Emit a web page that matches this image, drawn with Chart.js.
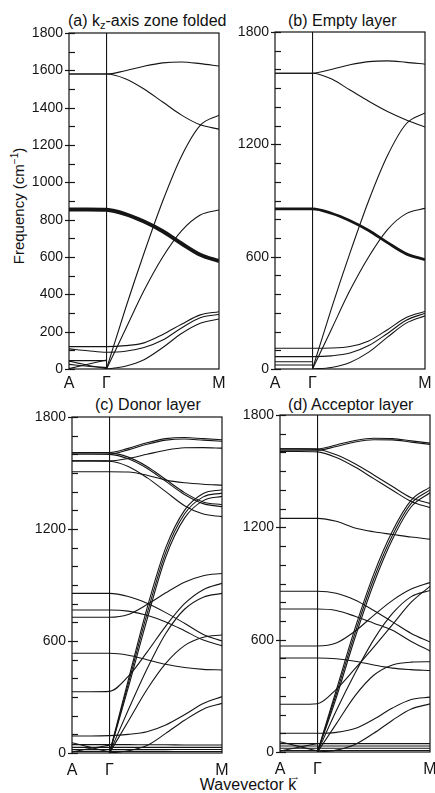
<!DOCTYPE html>
<html><head><meta charset="utf-8">
<script src="https://cdn.jsdelivr.net/npm/chart.js@4"></script>
<style>
html,body{margin:0;padding:0;background:#fff;}
body{width:435px;height:793px;position:relative;overflow:hidden;font-family:"Liberation Sans",Arial,sans-serif;color:#111;}
canvas{position:absolute;}
.t{position:absolute;white-space:nowrap;font-size:16px;line-height:16px;}
.t sub{font-size:11px;vertical-align:-3px;line-height:0;}
</style></head><body>
<div class="t" style="left:68px;top:13px">(a) k<sub>z</sub>-axis zone folded</div>
<div class="t" style="left:288px;top:13px">(b) Empty layer</div>
<div class="t" style="left:95px;top:397px">(c) Donor layer</div>
<div class="t" style="left:288px;top:397px">(d) Acceptor layer</div>
<div class="t" style="left:19px;top:206px;font-size:15px;transform:translate(-50%,-50%) rotate(-90deg);">Frequency (cm<sup style="font-size:10px;line-height:0">−1</sup>)</div>
<div class="t" style="left:248px;top:785px;transform:translate(-50%,-50%);">Wavevector <span style="position:relative;display:inline-block;">k<span style="position:absolute;left:1px;top:-9px;font-size:11px;">→</span></span></div>
<canvas id="ca"></canvas>
<canvas id="cb"></canvas>
<canvas id="cc"></canvas>
<canvas id="cd"></canvas>
<script>
// ---------- data ----------
const K = [0, 0.5, 1, 1.5, 2, 2.5, 3, 3.5, 4];   // A = 0, Γ = 1, M = 4
const K_TICKS = [0, 1, 4];
const K_LABELS = ['A', 'Γ', 'M'];
const _ = null;

// (a) kz-axis zone folded
const bandsA = [
  [1580,1580,1580,1598,1622,1640,1645,1636,1623],
  [1580,1580,1580,1555,1500,1430,1360,1308,1285],
  [_,_,0,320,620,900,1140,1305,1360],
  [_,_,0,210,420,600,740,825,852],
  [120,120,120,125,140,185,240,290,307],
  [108,98,90,95,115,155,220,275,292],
  [_,_,0,15,50,115,190,245,268],
  [45,45,45],
  [42,20,2],
  [2,25,48],
  [25,15,8]
];
const thickA = [855,855,853,830,790,738,672,612,578];

// (b) Empty layer
const bandsB = [
  [1580,1580,1580,1600,1625,1642,1646,1638,1628],
  [1580,1580,1580,1550,1490,1430,1375,1330,1292],
  [_,_,0,320,620,900,1140,1310,1368],
  [_,_,0,210,420,600,745,830,858],
  [111,111,111,112,120,150,210,275,307],
  [66,66,66,70,85,125,190,260,298],
  [_,_,0,8,35,90,170,245,284],
  [39,39,39],
  [21,21,21]
];
const thickB = [855,855,855,832,792,740,675,615,584];

// (c) Donor layer
const bandsC = [
  [1610,1610,1610,1632,1662,1684,1690,1684,1678],
  [1602,1602,1602,1624,1654,1676,1682,1676,1670],
  [1610,1610,1608,1585,1535,1465,1395,1345,1330],
  [1602,1602,1600,1576,1525,1455,1385,1336,1320],
  [1565,1565,1565,1578,1600,1622,1635,1636,1633],
  [1565,1565,1563,1535,1475,1400,1325,1280,1266],
  [1507,1507,1507,1505,1488,1462,1448,1440,1435],
  [_,_,0,390,775,1100,1300,1390,1410],
  [_,_,0,370,745,1075,1280,1372,1392],
  [_,_,0,350,715,1050,1258,1352,1375],
  [855,855,855,838,802,752,695,635,600],
  [766,766,766,760,738,702,655,605,575],
  [727,727,727,742,795,858,915,950,962],
  [534,534,534,524,500,475,458,448,445],
  [328,328,330,410,540,680,800,875,909],
  [_,_,0,230,450,640,770,835,855],
  [_,_,0,170,340,480,575,620,632],
  [91,91,93,100,114,150,205,265,302],
  [_,_,0,12,40,105,175,235,266],
  [45,45,45,45,44,44,43,43,43],
  [30,30,30,30,30,30,30,30,30],
  [18,18,18,18,18,18,19,19,19],
  [8,8,8,8,8,8,8,8,8],
  [55,30,5],
  [5,25,42]
];

// (d) Acceptor layer
const bandsD = [
  [1619,1619,1619,1640,1664,1676,1674,1662,1650],
  [1612,1612,1612,1632,1656,1668,1667,1655,1643],
  [1619,1619,1616,1588,1540,1480,1418,1358,1328],
  [1605,1605,1603,1573,1522,1460,1398,1338,1305],
  [1248,1248,1248,1232,1196,1176,1162,1148,1137],
  [_,_,0,330,660,950,1180,1345,1415],
  [_,_,0,310,635,925,1158,1328,1400],
  [_,_,0,290,610,900,1136,1310,1385],
  [859,859,859,848,812,756,695,633,587],
  [764,764,764,756,725,688,650,590,540],
  [566,566,566,582,645,730,810,870,905],
  [502,502,502,498,485,465,448,440,435],
  [255,255,258,335,445,560,680,800,885],
  [_,_,0,220,420,600,740,830,863],
  [_,_,0,150,300,410,465,480,482],
  [100,100,100,105,125,175,235,280,293],
  [_,_,0,10,40,100,170,230,257],
  [45,45,45,45,45,45,45,45,45],
  [32,32,32,32,32,32,32,32,32],
  [20,20,20,20,20,20,20,20,20],
  [8,8,8,8,8,8,8,8,8],
  [55,30,5],
  [5,25,45]
];

// ---------- drawing ----------
const FONT = '"Liberation Sans", Arial, sans-serif';
const INK = '#151515';

const framePlugin = {
  id: 'frame',
  afterDraw(chart, args, opts) {
    const { ctx, chartArea: a, scales: { y } } = chart;
    ctx.save();
    ctx.strokeStyle = INK;
    ctx.lineWidth = 1.2;
    ctx.strokeRect(a.left, a.top, a.right - a.left, a.bottom - a.top);
    y.ticks.forEach(t => {
      const py = Math.round(y.getPixelForValue(t.value)) + 0.5;
      const major = t.value % opts.major === 0;
      ctx.beginPath();
      ctx.moveTo(a.left - (major ? 4 : 0), py);
      ctx.lineTo(a.left + 6, py);
      ctx.stroke();
    });
    ctx.restore();
  }
};

function line(vals, width) {
  return {
    data: vals.map((v, i) => v === null ? null : { x: K[i], y: v }).filter(p => p),
    borderColor: INK, borderWidth: width, pointRadius: 0, fill: false,
    cubicInterpolationMode: 'monotone'
  };
}

const PANELS = [
  { id: 'ca', left: 0,   top: 0,   w: 230, h: 400, area: { l: 69,  t: 33,  r: 219, b: 369 }, major: 200, xPad: 5, bands: bandsA, thick: thickA, thickWidth: 4 },
  { id: 'cb', left: 230, top: 0,   w: 205, h: 400, area: { l: 275, t: 32,  r: 425, b: 369 }, major: 600, xPad: 5, bands: bandsB, thick: thickB, thickWidth: 2.8 },
  { id: 'cc', left: 0,   top: 400, w: 230, h: 393, area: { l: 72,  t: 417, r: 222, b: 753 }, major: 600, xPad: 8, bands: bandsC },
  { id: 'cd', left: 230, top: 400, w: 205, h: 393, area: { l: 280, t: 415, r: 430, b: 752 }, major: 600, xPad: 8, bands: bandsD }
];

PANELS.forEach(cfg => {
  const cv = document.getElementById(cfg.id);
  cv.width = cfg.w; cv.height = cfg.h;
  cv.style.left = cfg.left + 'px'; cv.style.top = cfg.top + 'px';
  cv.style.width = cfg.w + 'px'; cv.style.height = cfg.h + 'px';
  const datasets = cfg.bands.map(b => line(b, 1.1));
  if (cfg.thick) datasets.push(line(cfg.thick, cfg.thickWidth));
  new Chart(cv, {
    type: 'line',
    data: { datasets },
    options: {
      responsive: false, animation: false, devicePixelRatio: 1, events: [],
      layout: { padding: { left: 0, top: cfg.area.t - cfg.top, right: cfg.left + cfg.w - cfg.area.r, bottom: 0 } },
      plugins: { legend: { display: false }, tooltip: { enabled: false }, frame: { major: cfg.major } },
      scales: {
        x: {
          type: 'linear', min: 0, max: 4,
          afterBuildTicks: s => { s.ticks = K_TICKS.map(v => ({ value: v })); },
          afterFit: s => { s.height = cfg.top + cfg.h - cfg.area.b; s.paddingLeft = 0; s.paddingRight = 0; },
          ticks: { autoSkip: false, maxRotation: 0, padding: cfg.xPad, color: INK, font: { family: FONT, size: 16 },
                   callback: (v, i) => K_LABELS[i] },
          grid: { drawTicks: false, lineWidth: 1.1,
                  color: c => (c.tick && c.tick.value === 1) ? INK : 'rgba(0,0,0,0)' },
          border: { display: false }
        },
        y: {
          type: 'linear', min: 0, max: 1800,
          afterBuildTicks: s => { const t = []; for (let v = 0; v <= 1800; v += 100) t.push({ value: v }); s.ticks = t; },
          afterFit: s => { s.width = cfg.area.l - cfg.left; },
          ticks: { autoSkip: false, padding: 6, color: INK, font: { family: FONT, size: 14 },
                   callback: v => (v % cfg.major === 0 ? String(v) : '') },
          grid: { display: false, drawTicks: false },
          border: { display: false }
        }
      }
    },
    plugins: [framePlugin]
  });
});
</script>
</body></html>
